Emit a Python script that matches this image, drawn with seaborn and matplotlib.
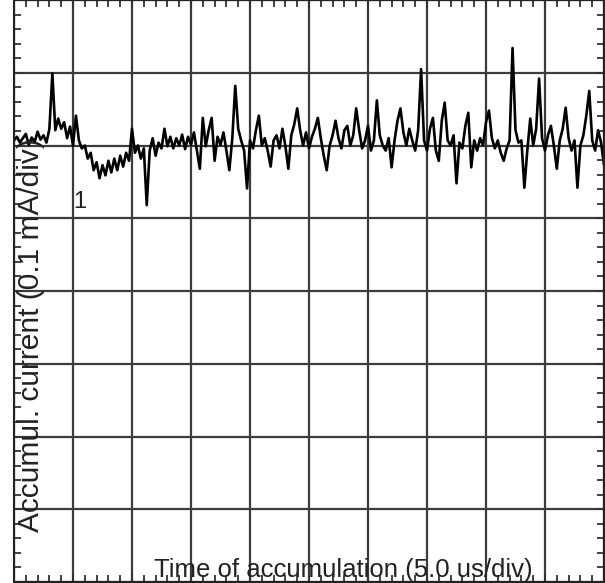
import pandas as pd
import seaborn as sns
import matplotlib.pyplot as plt
from matplotlib.ticker import MultipleLocator

# oscilloscope trace: time in us, current in mA
time_us = [
    0.0, 0.25, 0.5, 0.75, 1.0, 1.25, 1.5, 1.75, 2.0, 2.25,
    2.5, 2.75, 3.0, 3.25, 3.5, 3.75, 4.0, 4.25, 4.5, 4.75,
    5.0, 5.25, 5.5, 5.75, 6.0, 6.25, 6.5, 6.75, 7.0, 7.25,
    7.5, 7.75, 8.0, 8.25, 8.5, 8.75, 9.0, 9.25, 9.5, 9.75,
    10.0, 10.25, 10.5, 10.75, 11.0, 11.25, 11.5, 11.75, 12.0, 12.25,
    12.5, 12.75, 13.0, 13.25, 13.5, 13.75, 14.0, 14.25, 14.5, 14.75,
    15.0, 15.25, 15.5, 15.75, 16.0, 16.25, 16.5, 16.75, 17.0, 17.25,
    17.5, 17.75, 18.0, 18.25, 18.5, 18.75, 19.0, 19.25, 19.5, 19.75,
    20.0, 20.25, 20.5, 20.75, 21.0, 21.25, 21.5, 21.75, 22.0, 22.25,
    22.5, 22.75, 23.0, 23.25, 23.5, 23.75, 24.0, 24.25, 24.5, 24.75,
    25.0, 25.25, 25.5, 25.75, 26.0, 26.25, 26.5, 26.75, 27.0, 27.25,
    27.5, 27.75, 28.0, 28.25, 28.5, 28.75, 29.0, 29.25, 29.5, 29.75,
    30.0, 30.25, 30.5, 30.75, 31.0, 31.25, 31.5, 31.75, 32.0, 32.25,
    32.5, 32.75, 33.0, 33.25, 33.5, 33.75, 34.0, 34.25, 34.5, 34.75,
    35.0, 35.25, 35.5, 35.75, 36.0, 36.25, 36.5, 36.75, 37.0, 37.25,
    37.5, 37.75, 38.0, 38.25, 38.5, 38.75, 39.0, 39.25, 39.5, 39.75,
    40.0, 40.25, 40.5, 40.75, 41.0, 41.25, 41.5, 41.75, 42.0, 42.25,
    42.5, 42.75, 43.0, 43.25, 43.5, 43.75, 44.0, 44.25, 44.5, 44.75,
    45.0, 45.25, 45.5, 45.75, 46.0, 46.25, 46.5, 46.75, 47.0, 47.25,
    47.5, 47.75, 48.0, 48.25, 48.5, 48.75, 49.0, 49.25, 49.5, 49.75,
    50.0,
]
current_ma = [
    0.007, 0.012, 0.004, 0.010, 0.016, 0.001, 0.011, 0.005, 0.019, 0.008,
    0.014, 0.004, 0.023, 0.099, 0.021, 0.037, 0.023, 0.032, 0.010, 0.026,
    0.000, 0.041, 0.007, -0.004, 0.000, -0.018, -0.010, -0.034, -0.023, -0.045,
    -0.027, -0.041, -0.021, -0.037, -0.018, -0.034, -0.014, -0.029, -0.010, -0.021,
    0.023, -0.010, 0.000, -0.018, -0.004, -0.082, -0.007, 0.010, -0.014, 0.004,
    -0.004, 0.023, -0.001, 0.012, -0.004, 0.010, 0.000, 0.015, -0.005, 0.012,
    0.001, 0.018, -0.007, -0.032, 0.038, -0.001, 0.021, 0.038, -0.021, 0.012,
    0.001, 0.018, -0.007, -0.034, 0.010, 0.082, 0.023, 0.007, -0.007, -0.059,
    0.007, -0.004, 0.021, 0.041, 0.000, 0.010, -0.007, -0.029, 0.007, 0.014,
    -0.004, 0.023, -0.001, -0.032, 0.014, 0.029, 0.051, 0.021, 0.000, 0.018,
    -0.004, 0.012, 0.023, 0.038, 0.010, -0.014, -0.034, 0.000, 0.014, 0.034,
    0.010, -0.004, 0.021, 0.027, 0.000, 0.014, 0.051, 0.021, -0.004, 0.007,
    0.027, -0.007, 0.007, 0.062, 0.014, 0.000, -0.007, 0.010, -0.030, 0.007,
    0.034, 0.051, 0.018, 0.000, 0.023, 0.007, -0.007, 0.021, 0.105, 0.007,
    -0.007, 0.023, 0.038, -0.007, -0.021, 0.034, 0.059, 0.007, 0.000, 0.014,
    -0.052, 0.004, -0.004, 0.027, 0.045, -0.030, 0.007, -0.007, 0.010, 0.000,
    0.032, 0.048, 0.010, -0.004, 0.007, -0.010, -0.021, -0.004, 0.007, 0.134,
    0.021, 0.004, 0.007, -0.058, -0.007, 0.037, 0.000, 0.023, 0.092, 0.010,
    -0.007, 0.014, 0.027, 0.000, -0.032, 0.007, 0.023, 0.052, 0.010, -0.007,
    0.007, -0.058, 0.000, 0.014, 0.041, 0.075, 0.007, -0.007, 0.021, 0.004,
    -0.027,
]

x_label = "Time of accumulation (5.0 us/div)"
y_label = "Accumul. current (0.1 mA/div)"
trace_name = "1"

trace = pd.DataFrame({"Time": time_us, "Current": current_ma})

sns.set_theme(style="white")
plt.rcParams["font.family"] = ["Liberation Sans", "DejaVu Sans"]

fig = plt.figure(figsize=(6.05, 5.83), dpi=100)
ax = fig.add_axes([14 / 605, 1 / 583, 590 / 605, 582 / 583])

sns.lineplot(ax=ax, data=trace, x="Time", y="Current", color="black",
             linewidth=1.9, estimator=None, sort=False)

ax.set_xlim(0, 50)
ax.set_ylim(-0.6, 0.2)
ax.xaxis.set_major_locator(MultipleLocator(5))
ax.xaxis.set_minor_locator(MultipleLocator(1))
ax.yaxis.set_major_locator(MultipleLocator(0.1))
ax.yaxis.set_minor_locator(MultipleLocator(0.02))
ax.grid(True, which="major", color="#3c3c3c", linewidth=1.6)
ax.set_axisbelow(True)

ax.tick_params(which="both", direction="in", top=True, right=True,
               bottom=True, left=True, labelbottom=False, labelleft=False,
               color="#333333")
ax.tick_params(which="major", length=6, width=1.3)
ax.tick_params(which="minor", length=5, width=1.3)
for s in ax.spines.values():
    s.set_color("#222222")
    s.set_linewidth(1.5)

ax.set_xlabel("")
ax.set_ylabel("")
ax.text(0.558, 0.008, x_label, transform=ax.transAxes, ha="center",
        va="baseline", fontsize=18.5, color="#222222")
ax.text(0.028, 0.425, y_label, transform=ax.transAxes, rotation=90,
        ha="center", va="center", fontsize=21.5, color="#222222")
ax.text(5.6, -0.078, trace_name, ha="center", va="center", fontsize=17,
        color="#222222")

fig.savefig("out.png", dpi=100)
